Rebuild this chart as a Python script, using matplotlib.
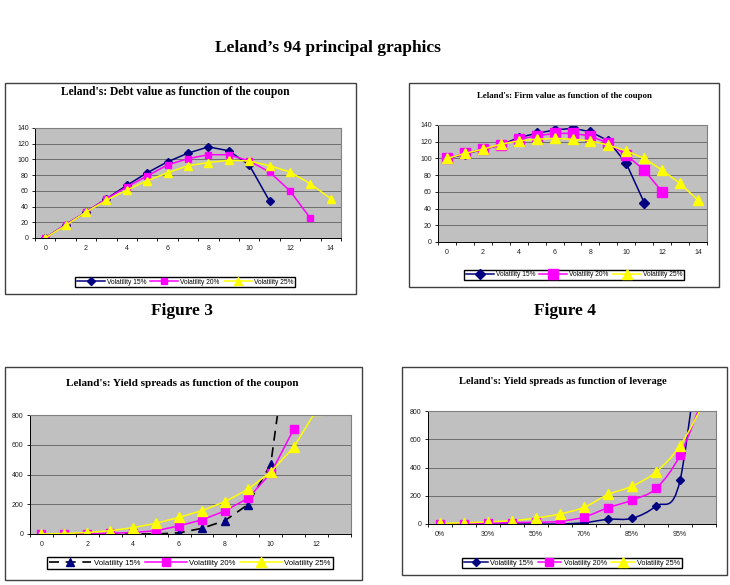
import matplotlib
matplotlib.use("Agg")
import matplotlib.pyplot as plt
import numpy as np
from matplotlib.patches import Rectangle, PathPatch
from matplotlib.path import Path
from matplotlib.lines import Line2D

plt.rcParams["font.family"] = ["Liberation Sans", "DejaVu Sans"]

W, H = 730, 585

# Figure 3: debt value vs coupon
debt_15 = [0, 17, 33, 50, 67, 83, 97, 108, 116, 111, 93, 47]
debt_20 = [0, 17, 33, 50, 65, 79, 93, 101, 106, 106, 98, 84, 60, 25]
debt_25 = [0, 16, 33, 48, 61, 73, 83, 92, 96, 99, 98, 92, 84, 69, 50]

# Figure 4: firm value vs coupon
firm_15 = [100, 105, 111, 116, 125, 130, 134, 136, 132, 121, 94, 47]
firm_20 = [100, 106, 111, 116, 123, 127, 130, 130, 127, 118, 104, 86, 60]
firm_25 = [100, 106, 111, 117, 121, 123, 124, 123, 121, 116, 109, 100, 86, 70, 50]

# yield spreads vs coupon
spread_15 = [0, 0, 0, 0, 0, 0, 8, 38, 90, 197, 470, 1600]
spread_20 = [0, 0, 2, 5, 10, 22, 55, 95, 155, 240, 408, 704]
spread_25 = [0, 3, 10, 22, 43, 72, 112, 157, 217, 300, 417, 583, 835]

# yield spreads vs leverage
leverage = ["0%", "20%", "30%", "40%", "50%", "60%", "70%", "80%", "85%", "90%", "95%", "99%"]
lev_15 = [0, 0, 0, 0, 0, 0, 9, 33, 40, 127, 308, 1600]
lev_20 = [0, 2, 5, 10, 12, 19, 49, 115, 169, 252, 487, 916]
lev_25 = [5, 8, 15, 24, 42, 71, 118, 209, 268, 369, 553, 860]

labels = ["Volatility 15%", "Volatility 20%", "Volatility 25%"]
NAVY, MAG, YEL = "#000080", "#FF00FF", "#FFFF00"


def px(x0, y0, x1, y1):
    return [x0 / W, 1 - y1 / H, (x1 - x0) / W, (y1 - y0) / H]


def frame(x0, y0, x1, y1):
    fig.add_artist(Rectangle((x0 / W, 1 - y1 / H), (x1 - x0) / W, (y1 - y0) / H,
                             transform=fig.transFigure, fill=False,
                             edgecolor="#404040", lw=1.0))


def style(ax, ymax, ystep, ncat):
    ax.set_facecolor("#C0C0C0")
    ax.set_xlim(-0.5, ncat - 0.5)
    ax.set_ylim(0, ymax)
    ax.set_yticks(np.arange(0, ymax + 1, ystep))
    ax.yaxis.grid(True, color="#6E6E6E", lw=0.7)
    ax.set_axisbelow(True)
    for s in ["top", "right"]:
        ax.spines[s].set_color("#808080")
        ax.spines[s].set_linewidth(0.8)
    for s in ["left", "bottom"]:
        ax.spines[s].set_color("black")
        ax.spines[s].set_linewidth(0.7)
    ax.set_xticks(np.arange(0, ncat, 2))
    ax.set_xticks(np.arange(-0.5, ncat, 1), minor=True)
    ax.tick_params(axis="x", which="major", length=0, pad=5)
    ax.tick_params(axis="x", which="minor", length=2.5, width=0.6)
    ax.tick_params(axis="y", length=2.5, width=0.6, pad=2)
    ax.tick_params(labelsize=5, labelcolor="#202020")


def title(x, y, text, size):
    fig.text(x / W, 1 - y / H, text, ha="center", va="center", fontsize=size,
             fontweight="bold", family="Liberation Serif")


def legend(ax, handles, x, y, size=5, hl=4.2):
    ax.legend(handles=handles, labels=labels, loc="center",
              bbox_to_anchor=(x / W, 1 - y / H), bbox_transform=fig.transFigure,
              ncol=3, fontsize=size, frameon=True, fancybox=False,
              edgecolor="black", framealpha=1, handlelength=hl,
              columnspacing=0.6, handletextpad=0.3, borderpad=0.25)


def smooth(ax, ys, color):
    pts = np.column_stack([np.arange(len(ys)), ys]).astype(float)
    n = len(pts)
    verts = [pts[0]]
    codes = [Path.MOVETO]
    for i in range(n - 1):
        p0 = pts[max(i - 1, 0)]
        p1 = pts[i]
        p2 = pts[i + 1]
        p3 = pts[min(i + 2, n - 1)]
        verts += [p1 + (p2 - p0) / 6, p2 - (p3 - p1) / 6, p2]
        codes += [Path.CURVE4] * 3
    ax.add_patch(PathPatch(Path(verts, codes), fill=False, edgecolor=color, lw=1.1))


fig = plt.figure(figsize=(7.3, 5.85), dpi=100)

title(328, 48, "Leland\u2019s 94 principal graphics", 12.5)
fig.text(182 / W, 1 - 311 / H, "Figure 3", ha="center", va="center", fontsize=12.5,
         fontweight="bold", family="Liberation Serif")
fig.text(565 / W, 1 - 311 / H, "Figure 4", ha="center", va="center", fontsize=12.5,
         fontweight="bold", family="Liberation Serif")

# ---- Figure 3
frame(5, 83, 356, 294)
ax1 = fig.add_axes(px(35, 128, 341, 238))
style(ax1, 140, 20, 15)
h1 = []
h1 += ax1.plot(range(len(debt_15)), debt_15, color=NAVY, marker="D", ms=4, lw=1.1)
h1 += ax1.plot(range(len(debt_20)), debt_20, color=MAG, marker="s", ms=5, lw=1.1)
h1 += ax1.plot(range(len(debt_25)), debt_25, color=YEL, marker="^", ms=6, lw=1.1)
title(175, 92, "Leland's: Debt value as function of the coupon", 8.3)
legend(ax1, h1, 185, 282, 4.8)

# ---- Figure 4
frame(409, 83, 719, 287)
ax2 = fig.add_axes(px(438, 125, 707, 242))
style(ax2, 140, 20, 15)
h2 = []
h2 += ax2.plot(range(len(firm_15)), firm_15, color=NAVY, marker="D", ms=5, lw=1.1)
h2 += ax2.plot(range(len(firm_20)), firm_20, color=MAG, marker="s", ms=6.5, lw=1.1)
h2 += ax2.plot(range(len(firm_25)), firm_25, color=YEL, marker="^", ms=7, lw=1.1)
title(564, 96, "Leland's: Firm value as function of the coupon", 6.3)
legend(ax2, h2, 574, 275, 4.8)

# ---- yield spreads vs coupon
frame(5, 367, 362, 580)
ax3 = fig.add_axes(px(30, 415, 351, 534))
style(ax3, 800, 200, 14)
ax3.plot(range(len(spread_15)), spread_15, color="black", ls=(0, (6, 4)), lw=1.2,
         marker="^", ms=6, mfc=NAVY, mec=NAVY)
ax3.plot(range(len(spread_20)), spread_20, color=MAG, marker="s", ms=6, lw=1.1)
ax3.plot(range(len(spread_25)), spread_25, color=YEL, marker="^", ms=7, lw=1.1)
h3 = ax3.get_lines()
title(182, 384, "Leland's: Yield spreads as function of the coupon", 8)
legend(ax3, h3, 190, 563, 5.6, 5.4)

# ---- yield spreads vs leverage
frame(402, 367, 727, 575)
ax4 = fig.add_axes(px(428, 411, 716, 524))
style(ax4, 800, 200, 12)
ax4.set_xticklabels(leverage[::2])
x = range(len(leverage))
smooth(ax4, lev_15, NAVY)
smooth(ax4, lev_20, MAG)
smooth(ax4, lev_25, YEL)
ax4.plot(x, lev_15, ls="none", color=NAVY, marker="D", ms=4.5)
ax4.plot(x, lev_20, ls="none", color=MAG, marker="s", ms=5.5)
ax4.plot(x, lev_25, ls="none", color=YEL, marker="^", ms=6.5)
h4 = [Line2D([], [], color=NAVY, marker="D", ms=4.5, lw=1.1),
      Line2D([], [], color=MAG, marker="s", ms=5.5, lw=1.1),
      Line2D([], [], color=YEL, marker="^", ms=6.5, lw=1.1)]
title(563, 381, "Leland's: Yield spreads as function of leverage", 7.6)
legend(ax4, h4, 572, 563, 5.2, 3.3)

fig.savefig("out.png", dpi=100)
